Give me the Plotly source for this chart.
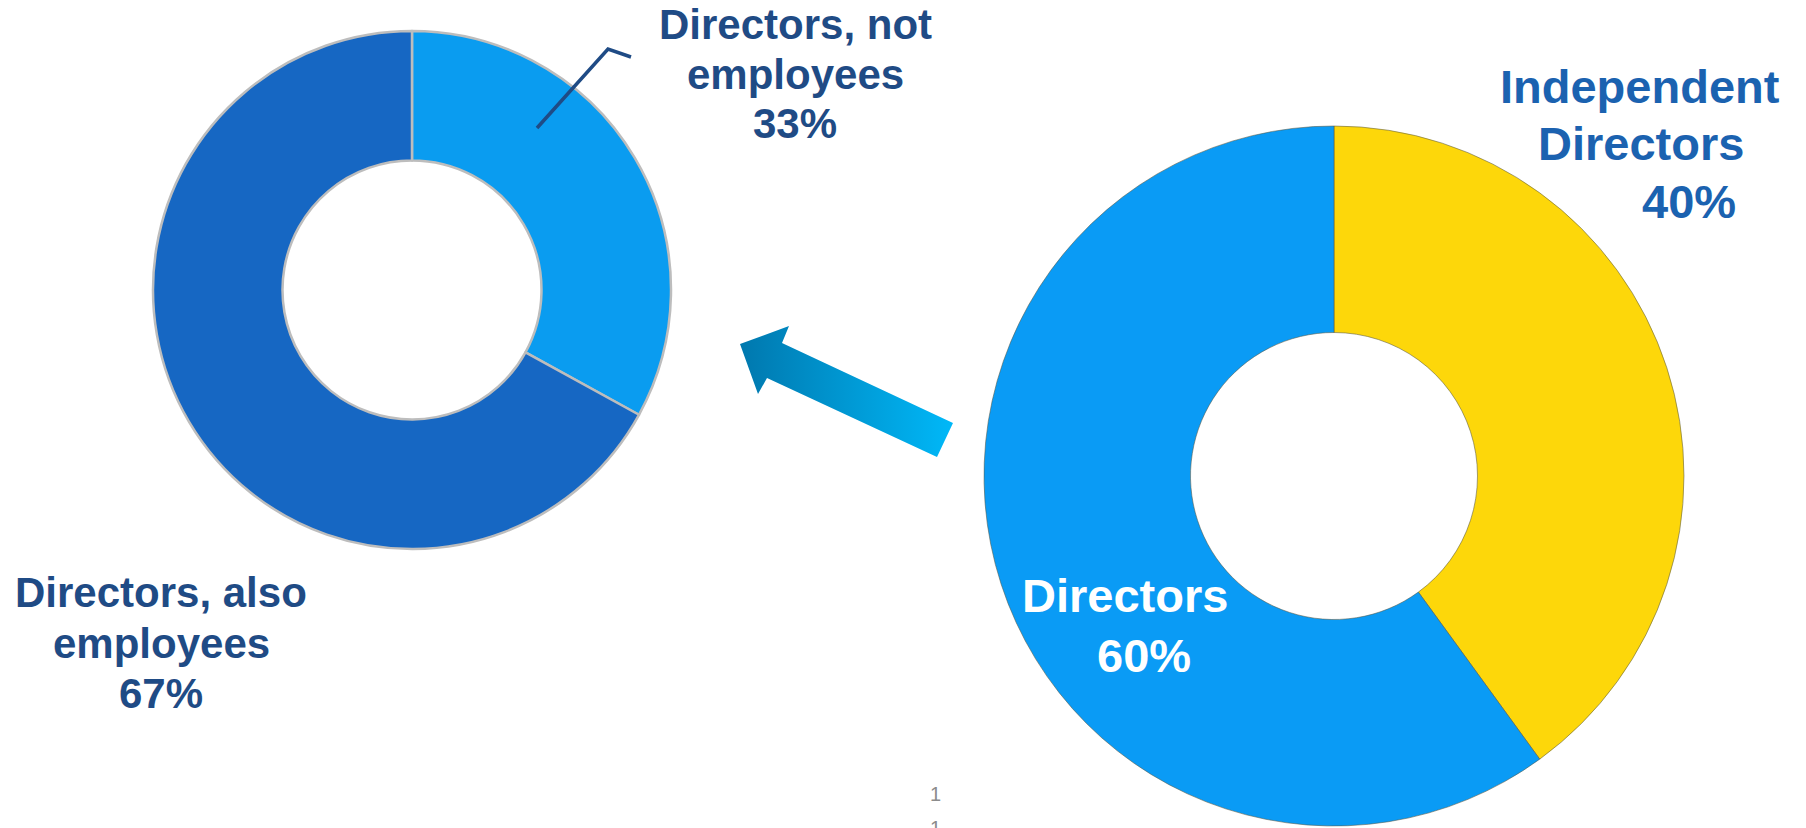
import plotly.graph_objects as go

W, H = 1806, 828

# ---------------- data ----------------
left_labels = ["Directors, not employees", "Directors, also employees"]
left_values = [33, 67]
left_colors = ["#0A9CF0", "#1667C3"]
left_label_lines = [["Directors, not", "employees"], ["Directors, also", "employees"]]

right_labels = ["Independent Directors", "Directors"]
right_values = [40, 60]
right_colors = ["#FDD70A", "#0A9BF5"]
right_label_lines = [["Independent", "Directors"], ["Directors"]]

page_numbers = ["1", "1"]

# ---------------- layout constants (pixels) ----------------
LEFT_C, LEFT_R, LEFT_HOLE = (412, 290), 259, 0.5
RIGHT_C, RIGHT_R, RIGHT_HOLE = (1334, 476), 350, 0.41

# per-label text anchor (x center for each line, baseline for each line)
left_text_pos = [
    [(795, 39), (795, 89), (795, 138)],
    [(161, 607), (161, 658), (161, 708)],
]
right_text_pos = [
    [(1640, 103), (1641, 160), (1689, 218)],
    [(1125, 612), (1144, 672)],
]
LEFT_FS, RIGHT_FS = 42, 47
LEFT_TXT_COLOR = "#1F4B85"
RIGHT_TXT_COLORS = ["#1B62B0", "#FFFFFF"]

leader_pts = [(537, 128), (608, 49), (631, 57)]

arrow_x = [740, 789, 782, 953, 937, 767, 758, 740]
arrow_y = [344, 326, 343, 423, 457, 378, 394, 344]

page_pos = [(935, 794), (935, 827.5)]


def dom_x(cx, r):
    return [(cx - r) / W, (cx + r) / W]


def dom_y(cy, r):
    return [max(0, 1 - (cy + r) / H), min(1, 1 - (cy - r) / H)]


fig = go.Figure()

fig.add_trace(go.Pie(
    labels=left_labels, values=left_values, hole=LEFT_HOLE, sort=False,
    direction="clockwise", rotation=0,
    marker=dict(colors=left_colors, line=dict(color="#BDBDBD", width=2.5)),
    textinfo="none", hoverinfo="label+percent",
    domain=dict(x=dom_x(LEFT_C[0], LEFT_R), y=dom_y(LEFT_C[1], LEFT_R)),
    showlegend=False,
))

fig.add_trace(go.Pie(
    labels=right_labels, values=right_values, hole=RIGHT_HOLE, sort=False,
    direction="clockwise", rotation=0,
    marker=dict(colors=right_colors, line=dict(color="rgba(90,90,70,0.55)", width=1)),
    textinfo="none", hoverinfo="label+percent",
    domain=dict(x=dom_x(RIGHT_C[0], RIGHT_R), y=dom_y(RIGHT_C[1], RIGHT_R)),
    showlegend=False,
))

# arrow with gradient
fig.add_trace(go.Scatter(
    x=arrow_x, y=arrow_y, mode="lines", fill="toself",
    line=dict(width=0, color="rgba(0,0,0,0)"),
    fillgradient=dict(type="horizontal",
                      colorscale=[[0, "#0078AE"], [1, "#00B8F8"]]),
    hoverinfo="skip", showlegend=False,
))

# leader line drawn above the pie
leader_path = "M " + " L ".join(f"{x},{y}" for x, y in leader_pts)
fig.add_shape(type="path", path=leader_path, xref="x", yref="y",
              line=dict(color=LEFT_TXT_COLOR, width=3.5), layer="above")

annotations = []


def add_line(text, x, baseline, fs, color):
    annotations.append(dict(
        x=x, y=baseline - 0.35 * fs, xref="x", yref="y",
        text=text, showarrow=False, xanchor="center", yanchor="middle",
        font=dict(family="Liberation Sans, Arial, sans-serif", size=fs,
                  color=color, weight="bold"),
    ))


for i, lines in enumerate(left_label_lines):
    texts = lines + [f"{left_values[i]}%"]
    for t, (x, b) in zip(texts, left_text_pos[i]):
        add_line(t, x, b, LEFT_FS, LEFT_TXT_COLOR)

for i, lines in enumerate(right_label_lines):
    texts = lines + [f"{right_values[i]}%"]
    for t, (x, b) in zip(texts, right_text_pos[i]):
        add_line(t, x, b, RIGHT_FS, RIGHT_TXT_COLORS[i])

for t, (x, y) in zip(page_numbers, page_pos):
    annotations.append(dict(
        x=x, y=y, xref="x", yref="y", text=t, showarrow=False,
        xanchor="center", yanchor="middle",
        font=dict(family="Liberation Sans, Arial, sans-serif", size=20, color="#8C8C8C"),
    ))

fig.update_layout(
    width=W, height=H,
    margin=dict(l=0, r=0, t=0, b=0),
    paper_bgcolor="white", plot_bgcolor="rgba(0,0,0,0)",
    xaxis=dict(range=[0, W], visible=False, fixedrange=True, domain=[0, 1]),
    yaxis=dict(range=[H, 0], visible=False, fixedrange=True, domain=[0, 1]),
    annotations=annotations,
    showlegend=False,
)

fig.write_html(
    "out.html",
    config={"displayModeBar": False},
    post_script="document.body.style.margin='0px';document.body.style.overflow='hidden';",
)
